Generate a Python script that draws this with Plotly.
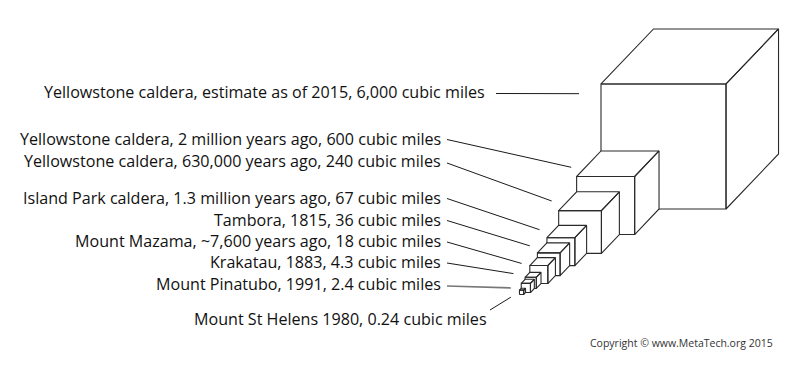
import plotly.graph_objects as go

# ---------------- data ----------------
LABELS = [
    "Yellowstone caldera, estimate as of 2015, 6,000 cubic miles",
    "Yellowstone caldera, 2 million years ago, 600 cubic miles",
    "Yellowstone caldera, 630,000 years ago, 240 cubic miles",
    "Island Park caldera, 1.3 million years ago, 67 cubic miles",
    "Tambora, 1815, 36 cubic miles",
    "Mount Mazama, ~7,600 years ago, 18 cubic miles",
    "Krakatau, 1883, 4.3 cubic miles",
    "Mount Pinatubo, 1991, 2.4 cubic miles",
    "Mount St Helens 1980, 0.24 cubic miles",
]
VOLUMES = [6000, 600, 240, 67, 36, 18, 4.3, 2.4, 0.24]  # cubic miles
COPYRIGHT = "Copyright © www.MetaTech.org 2015"

# ---------------- layout (pixel space) ----------------
W, H = 806, 375
ANCHOR = (601.0, 209.0)      # front-face bottom-left of the largest cube
SCALE = 6.88                 # px per cube-root(cubic mile)
FX, FY = 0.42, 0.44          # oblique depth factors
LABEL_RIGHT = [487, 443, 443, 443, 443, 443, 443, 443, 489]
LABEL_Y = [92, 139, 160.5, 198, 220, 241, 262, 283.5, 319]
LEAD_START = [(496, 93.5), (447, 139.5), (447, 163), (447, 198.5), (447, 220.5),
              (447, 242), (447, 263), (447, 286), (490, 310)]
LEAD_OFFSET = [(-22, 9.7), (-5.4, -9.2), (-7, -9.6), (-7.4, -8), (-7.6, -7.1),
               (-8.2, -2.1), (-11.7, -3.7), (-10.4, 4.6), (-8.6, 7)]
FONT = "Open Sans"
FSIZE = 16.1

fig = go.Figure()

# cubes: each smaller cube sits in front of the previous one
cubes = []
bx, by = ANCHOR
for i, v in enumerate(VOLUMES):
    s = SCALE * v ** (1.0 / 3.0)
    if i == 0:
        fx0, fy0 = bx, by
    else:
        fx0, fy0 = bx - FX * s, by + FY * s
    dx, dy = FX * s, -FY * s
    cubes.append((fx0, fy0, s, dx, dy))
    bx, by = fx0, fy0

for (x0, y0, s, dx, dy) in cubes:
    xt, yt = x0, y0 - s
    front = [(x0, y0), (x0 + s, y0), (x0 + s, yt), (xt, yt), (x0, y0)]
    top = [(xt, yt), (xt + s, yt), (xt + s + dx, yt + dy), (xt + dx, yt + dy), (xt, yt)]
    right = [(x0 + s, y0), (x0 + s + dx, y0 + dy), (x0 + s + dx, yt + dy), (x0 + s, yt), (x0 + s, y0)]
    xs, ys = [], []
    for poly in (front, top, right):
        xs += [p[0] for p in poly] + [None]
        ys += [p[1] for p in poly] + [None]
    fig.add_trace(go.Scatter(x=xs, y=ys, mode="lines", fill="toself",
                             fillcolor="white", line=dict(color="#2a2a2a", width=1.1),
                             hoverinfo="skip"))

# leader lines
for i, (x0, y0, s, dx, dy) in enumerate(cubes):
    ex = x0 + LEAD_OFFSET[i][0]
    ey = y0 - s + LEAD_OFFSET[i][1]
    sx, sy = LEAD_START[i]
    col = "#777777" if i == 7 else "#1a1a1a"
    wd = 1.6 if i == 7 else 1.0
    fig.add_trace(go.Scatter(x=[sx, ex], y=[sy, ey], mode="lines",
                             line=dict(color=col, width=wd), hoverinfo="skip"))

# labels
for i, t in enumerate(LABELS):
    fig.add_annotation(x=LABEL_RIGHT[i], y=LABEL_Y[i], xref="x", yref="y", text=t,
                       showarrow=False, xanchor="right", yanchor="middle",
                       font=dict(family=FONT, size=FSIZE, color="#111111"))

fig.add_annotation(x=775, y=343, xref="x", yref="y", text=COPYRIGHT, showarrow=False,
                   xanchor="right", yanchor="middle",
                   font=dict(family=FONT, size=10.5, color="#333333"))

fig.update_layout(
    width=W, height=H, margin=dict(l=0, r=0, t=0, b=0),
    paper_bgcolor="white", plot_bgcolor="white", showlegend=False,
    xaxis=dict(range=[0, W], visible=False, fixedrange=True),
    yaxis=dict(range=[H, 0], visible=False, fixedrange=True),
)

fig.write_html("out.html")
